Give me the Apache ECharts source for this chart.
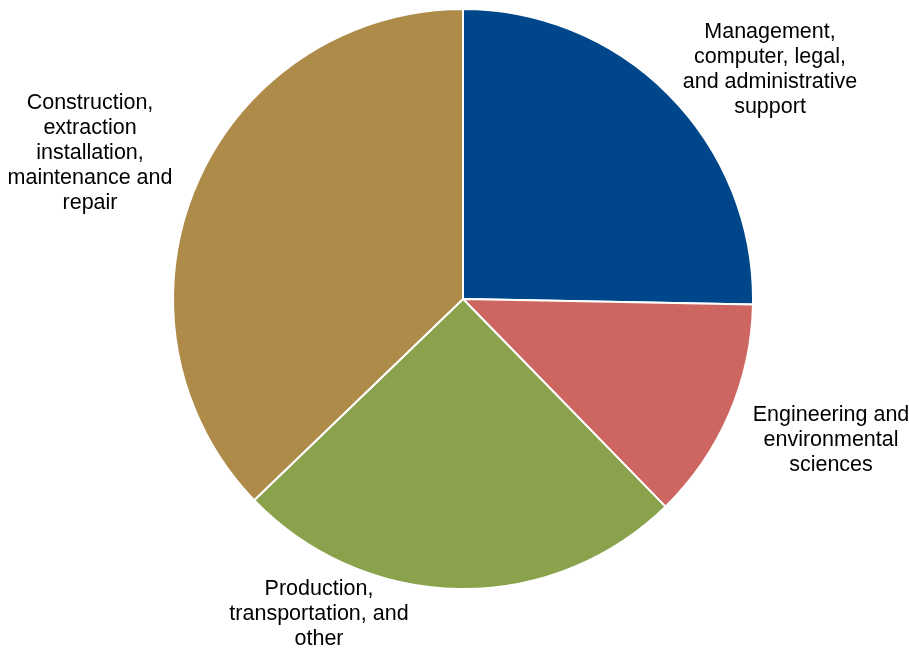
<!DOCTYPE html>
<html>
<head>
    <meta charset="utf-8">
    <title>Pie</title>
    <script src="https://cdn.jsdelivr.net/npm/echarts@6/dist/echarts.min.js"></script>
    <style>
        html, body { margin: 0; padding: 0; background: #ffffff; }
        #chart { width: 909px; height: 650px; }
    </style>
</head>
<body>
<div id="chart"></div>
<script>
    var categories = [
        'Management,\ncomputer, legal,\nand administrative\nsupport',
        'Engineering and\nenvironmental\nsciences',
        'Production,\ntransportation, and\nother',
        'Construction,\nextraction\ninstallation,\nmaintenance and\nrepair'
    ];
    var shares = [25.3, 12.4, 25.1, 37.2];
    var colors = ['#00468a', '#cd6660', '#8ba24c', '#ae8b48'];
    // label centres (px)
    var labelPos = [[770, 70], [831, 440], [319, 614], [90, 153]];

    var chart = echarts.init(document.getElementById('chart'));
    var data = [];
    for (var i = 0; i < categories.length; i++) {
        data.push({ name: categories[i], value: shares[i], itemStyle: { color: colors[i] } });
    }
    chart.setOption({
        animation: false,
        series: [{
            type: 'pie',
            center: [463, 299],
            radius: 290,
            startAngle: 90,
            clockwise: true,
            data: data,
            itemStyle: { borderColor: '#ffffff', borderWidth: 2 },
            label: {
                show: true,
                position: 'outside',
                color: '#000000',
                fontFamily: 'Liberation Sans, Arial, sans-serif',
                fontSize: 21.5,
                lineHeight: 25,
                align: 'center',
                overflow: 'none',
                width: 300
            },
            labelLine: { show: false },
            labelLayout: function (p) {
                return {
                    x: labelPos[p.dataIndex][0],
                    y: labelPos[p.dataIndex][1],
                    align: 'center',
                    verticalAlign: 'middle'
                };
            }
        }]
    });
</script>
</body>
</html>
